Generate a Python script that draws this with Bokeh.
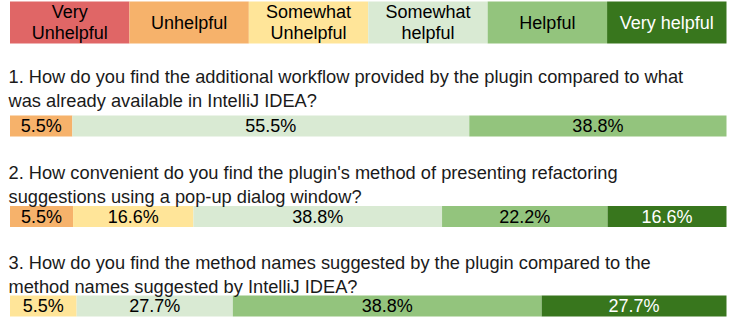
import numpy as np
from bokeh.plotting import figure
from bokeh.models import Range1d, ColumnDataSource
from bokeh.core.properties import value
from bokeh.embed import file_html
from bokeh.resources import INLINE

# ---- data ----
categories = ["Very\nUnhelpful", "Unhelpful", "Somewhat\nUnhelpful",
              "Somewhat\nhelpful", "Helpful", "Very helpful"]
cat_colors = ["#E06666", "#F6B26B", "#FFE599", "#D9EAD3", "#93C47D", "#38761D"]
cat_text_colors = ["#000000", "#000000", "#000000", "#000000", "#000000", "#FFFFFF"]

questions = [
    ["1. How do you find the additional workflow provided by the plugin compared to what",
     "was already available in IntelliJ IDEA?"],
    ["2. How convenient do you find the plugin's method of presenting refactoring",
     "suggestions using a pop-up dialog window?"],
    ["3. How do you find the method names suggested by the plugin compared to the",
     "method names suggested by IntelliJ IDEA?"],
]

# category index of each answer segment
q1_cats = [1, 3, 4]
q2_cats = [1, 2, 3, 4, 5]
q3_cats = [2, 3, 4, 5]
# percentage labels
q1_pct = [5.5, 55.5, 38.8]
q2_pct = [5.5, 16.6, 38.8, 22.2, 16.6]
q3_pct = [5.5, 27.7, 38.8, 27.7]
# segment widths as drawn in the picture (share of bar, %)
q1_drawn = [8.7, 55.4, 35.9]
q2_drawn = [8.8, 16.8, 34.7, 23.1, 16.6]
q3_drawn = [9.3, 21.8, 43.1, 25.8]

all_cats = [q1_cats, q2_cats, q3_cats]
all_pct = [q1_pct, q2_pct, q3_pct]
all_drawn = [q1_drawn, q2_drawn, q3_drawn]

# ---- layout (pixels from the top of the page) ----
W, H = 731, 328
FONT = value("Liberation Sans")
FS = "18px"
FS_Q = "18.25px"
legend_top, legend_bottom = 1, 43
bar_centers = [125.5, 216.0, 305.4]
bar_h = 21
question_lines_y = [[76, 100], [172, 196], [262, 286]]
bar_left_px, bar_right_px = 9.5, 726.0
ppu = (bar_right_px - bar_left_px) / 100.0

p = figure(width=W, height=H, output_backend="svg", toolbar_location=None,
           x_range=Range1d(-bar_left_px / ppu, 100 + (W - bar_right_px) / ppu),
           y_range=Range1d(H, 0),
           min_border=0, min_border_left=0, min_border_right=0,
           min_border_top=0, min_border_bottom=0)
p.axis.visible = False
p.grid.visible = False
p.outline_line_color = None
p.background_fill_color = None
p.border_fill_color = None

# legend strip
n = len(categories)
edges = np.linspace(0, 100, n + 1)
leg = ColumnDataSource(dict(left=edges[:-1], right=edges[1:],
                            x=(edges[:-1] + edges[1:]) / 2,
                            color=cat_colors, tcolor=cat_text_colors,
                            text=categories))
p.quad(left="left", right="right", top=legend_top, bottom=legend_bottom,
       fill_color="color", line_color=None, source=leg)
p.text(x="x", y=(legend_top + legend_bottom) / 2, text="text", source=leg,
       text_font=FONT, text_font_size=FS, text_align="center",
       text_baseline="middle", text_color="tcolor", text_line_height=1.05)

# question bars
for qi, (cats, pct, drawn) in enumerate(zip(all_cats, all_pct, all_drawn)):
    d = np.array(drawn, dtype=float)
    d = d / d.sum() * 100
    right = np.cumsum(d)
    left = right - d
    yc = bar_centers[qi]
    src = ColumnDataSource(dict(
        left=left, right=right, x=(left + right) / 2,
        color=[cat_colors[c] for c in cats],
        tcolor=[cat_text_colors[c] for c in cats],
        text=[f"{v}%" for v in pct]))
    p.quad(left="left", right="right", top=yc - bar_h / 2, bottom=yc + bar_h / 2,
           fill_color="color", line_color=None, source=src)
    p.text(x="x", y=yc, text="text", source=src, text_font=FONT,
           text_font_size=FS, text_align="center", text_baseline="middle",
           text_color="tcolor")
    qsrc = ColumnDataSource(dict(x=[-1.5 / ppu] * 2, y=question_lines_y[qi],
                                 text=questions[qi]))
    p.text(x="x", y="y", text="text", source=qsrc, text_font=FONT,
           text_font_size=FS_Q, text_align="left", text_baseline="middle",
           text_color="#1a1a1a")

open("out.html", "w").write(file_html(p, INLINE))
